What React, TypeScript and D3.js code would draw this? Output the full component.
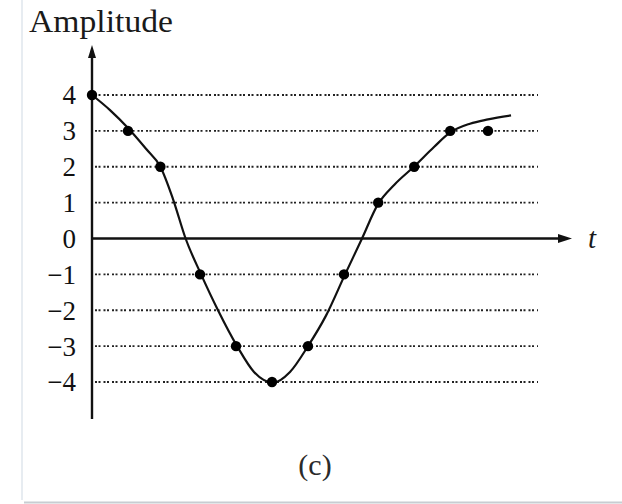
import React from 'react';
import * as d3 from 'd3';

// sampled dots (t index, amplitude)
const dotT = [0, 1, 1.9, 3, 4, 5, 6, 7, 7.95, 8.95, 9.95, 11];
const dotV = [4, 3, 2, -1, -3, -4, -3, -1, 1, 2, 3, 3];

// smooth curve
const curveT = [0, 0.5, 1, 1.5, 1.9, 2.25, 2.6, 3.03, 3.5, 4.03, 4.5, 5.03,
    5.5, 6, 6.5, 7.03, 7.5, 7.94, 8.4, 8.94, 9.5, 9.94, 10.5, 11, 11.64];
const curveV = [4, 3.58, 3.08, 2.5, 2.0, 1.1, 0, -1, -2.0, -3, -3.72, -4.02,
    -3.72, -3, -2.15, -1, 0, 0.95, 1.5, 2.0, 2.55, 2.95, 3.2, 3.32, 3.43];

const yTicks = [4, 3, 2, 1, 0, -1, -2, -3, -4];
const gridValues = [4, 3, 2, 1, -1, -2, -3, -4];

const width = 622;
const height = 504;
const serif = '"Liberation Serif", "DejaVu Serif", serif';

const fmt = (v: number) => (v < 0 ? '\u2212' + Math.abs(v) : String(v));

export default function App() {
    const x = d3.scaleLinear().domain([0, 11]).range([92, 488]);
    const y = d3.scaleLinear().domain([-4, 4]).range([382, 95]);

    const curvePts: [number, number][] = curveT.map((t, i) => [t, curveV[i]]);
    const line = d3.line<[number, number]>()
        .x(d => x(d[0]))
        .y(d => y(d[1]))
        .curve(d3.curveMonotoneX);

    const axisX0 = x(0);
    const zeroY = y(0);

    return (
        <svg width={width} height={height}
             style={{position: 'absolute', left: 0, top: 0, display: 'block', background: '#fff'}}>
            {/* frame */}
            <line x1={22} y1={0} x2={22} y2={500} stroke="#dfe6ec" strokeWidth={1.5}/>
            <line x1={24} y1={502.5} x2={width} y2={502.5} stroke="#c8cdd2" strokeWidth={2}/>

            <text x={29} y={32} fontFamily={serif} fontSize={32} fill="#1a1a1a"
                  textLength={144} lengthAdjust="spacingAndGlyphs">Amplitude</text>

            {/* dotted grid */}
            {gridValues.map(v => (
                <line key={v} x1={95} x2={538} y1={y(v)} y2={y(v)}
                      stroke="#222" strokeWidth={1.9} strokeDasharray="2,1.5,2,3"/>
            ))}

            {/* axes */}
            <line x1={axisX0} y1={419} x2={axisX0} y2={52} stroke="#111" strokeWidth={2.4}/>
            <path d={`M${axisX0},45 L${axisX0 - 4},58 L${axisX0 + 4},58 Z`} fill="#111"/>
            <line x1={axisX0} y1={zeroY} x2={562} y2={zeroY} stroke="#111" strokeWidth={2.4}/>
            <path d={`M572,${zeroY} L558,${zeroY - 4.5} L558,${zeroY + 4.5} Z`} fill="#111"/>

            <text x={588} y={248} fontFamily={serif} fontStyle="italic" fontSize={29}
                  fill="#1a1a1a">t</text>

            {yTicks.map(v => (
                <text key={v} x={76} y={y(v)} dy="0.35em" textAnchor="end"
                      fontFamily={serif} fontSize={27} fill="#111">{fmt(v)}</text>
            ))}

            <path d={line(curvePts) || ''} fill="none" stroke="#111" strokeWidth={2.2}/>

            {dotT.map((t, i) => (
                <circle key={i} cx={x(t)} cy={y(dotV[i])} r={5.2} fill="#000"/>
            ))}

            <text x={315} y={475} textAnchor="middle" fontFamily={serif} fontSize={30}
                  fill="#2a2a2a">(c)</text>
        </svg>
    );
}
